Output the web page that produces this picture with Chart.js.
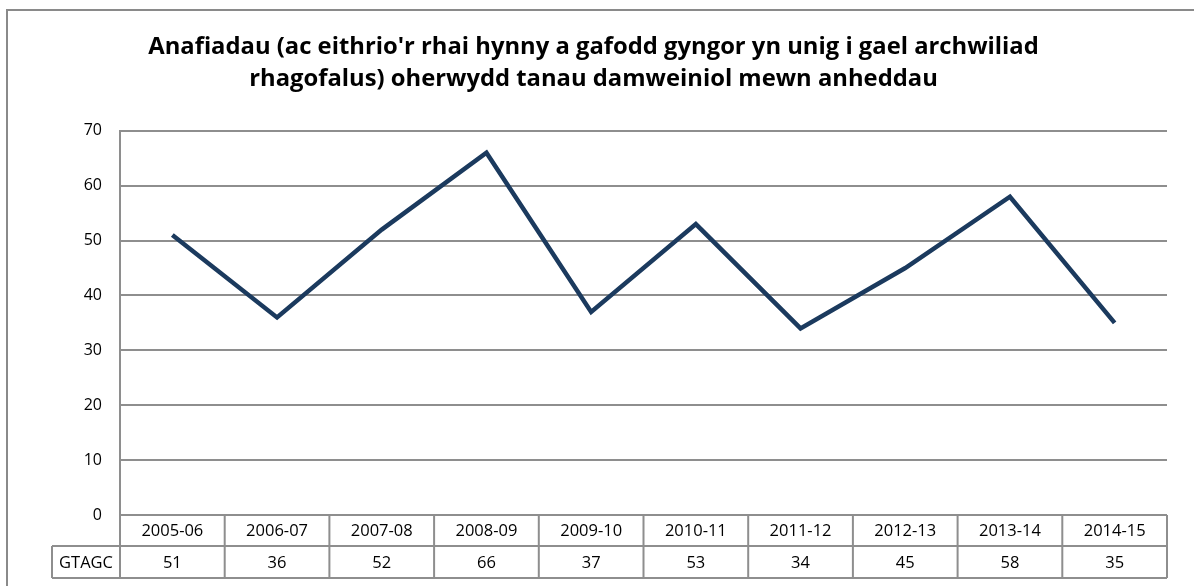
<!DOCTYPE html>
<html><head><meta charset="utf-8">
<script src="https://cdn.jsdelivr.net/npm/chart.js@4/dist/chart.umd.min.js"></script>
<style>html,body{margin:0;padding:0;background:#fff}#wrap{width:1194px;height:586px;position:relative}</style>
</head><body><div id="wrap"><canvas id="c" width="1194" height="586"></canvas></div>
<script>
const titleLines = ["Anafiadau (ac eithrio'r rhai hynny a gafodd gyngor yn unig i gael archwiliad", "rhagofalus) oherwydd tanau damweiniol mewn anheddau"];
const categories = ["2005-06","2006-07","2007-08","2008-09","2009-10","2010-11","2011-12","2012-13","2013-14","2014-15"];
const seriesName = "GTAGC";
const values = [51,36,52,66,37,53,34,45,58,35];
const yMin = 0, yMax = 70, yStep = 10;

const FONT = "'Open Sans', 'Noto Sans', sans-serif";
const GRID = '#8e8e8e';

const framePlugin = {
  id: 'frame',
  beforeDraw(chart) {
    const ctx = chart.ctx;
    ctx.save();
    ctx.fillStyle = '#fff';
    ctx.fillRect(0, 0, chart.width, chart.height);
    ctx.strokeStyle = '#8a8a8a';
    ctx.lineWidth = 2;
    ctx.strokeRect(7, 10, 1200, 600);
    ctx.restore();
  }
};

const tablePlugin = {
  id: 'dataTable',
  afterDraw(chart) {
    const ctx = chart.ctx, a = chart.chartArea, xs = chart.scales.x;
    const n = categories.length;
    const w = (a.right - a.left) / n;
    const top = a.bottom, r1 = top + 31, r2 = r1 + 32;
    const labelLeft = 52;
    ctx.save();
    ctx.strokeStyle = GRID;
    ctx.lineWidth = 2;
    ctx.beginPath();
    ctx.moveTo(a.left, top); ctx.lineTo(a.right, top);
    ctx.moveTo(labelLeft, r1); ctx.lineTo(a.right, r1);
    ctx.moveTo(labelLeft, r2); ctx.lineTo(a.right, r2);
    ctx.moveTo(labelLeft, r1); ctx.lineTo(labelLeft, r2);
    for (let i = 0; i <= n; i++) {
      const x = a.left + i * w;
      ctx.moveTo(x, top); ctx.lineTo(x, r2);
    }
    ctx.stroke();
    ctx.fillStyle = '#000';
    ctx.font = "16.5px " + FONT;
    ctx.textAlign = 'center';
    ctx.textBaseline = 'middle';
    categories.forEach((c, i) => {
      const cx = xs.getPixelForValue(i);
      ctx.fillText(c, cx, (top + r1) / 2 + 1);
      ctx.fillText(String(values[i]), cx, (r1 + r2) / 2 + 1);
    });
    ctx.fillText(seriesName, (labelLeft + a.left) / 2, (r1 + r2) / 2 + 1);
    ctx.restore();
  }
};

new Chart(document.getElementById('c'), {
  type: 'line',
  data: {
    labels: categories,
    datasets: [{
      label: seriesName,
      data: values,
      borderColor: '#1b3a5e',
      borderWidth: 4.5,
      pointRadius: 0,
      tension: 0,
      fill: false
    }]
  },
  options: {
    responsive: false,
    animation: false,
    devicePixelRatio: 1,
    layout: { padding: { top: 31, right: 27, bottom: 0, left: 20 } },
    plugins: {
      legend: { display: false },
      tooltip: { enabled: false },
      title: {
        display: true,
        text: titleLines,
        color: '#000',
        font: { family: FONT, size: 23.8, weight: 'bold', lineHeight: 1.32 },
        padding: { top: 1, bottom: 36 }
      }
    },
    scales: {
      x: {
        offset: true,
        grid: { display: false, drawTicks: false },
        border: { display: false },
        ticks: { display: false },
        afterFit(s) { s.height = 71; }
      },
      y: {
        min: yMin, max: yMax,
        ticks: { stepSize: yStep, color: '#000', font: { family: FONT, size: 16 }, padding: 18 },
        grid: { color: GRID, lineWidth: 2, drawTicks: false },
        border: { color: GRID, width: 2 },
        afterFit(s) { s.width = 100; }
      }
    }
  },
  plugins: [framePlugin, tablePlugin]
});
</script>
</body></html>
